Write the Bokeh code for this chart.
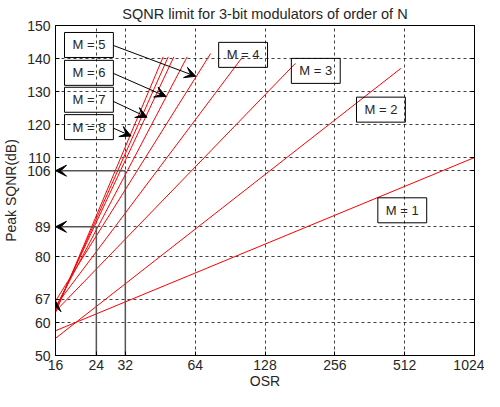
from bokeh.plotting import figure
from bokeh.models import Range1d, FixedTicker, Label, Arrow, VeeHead, LinearAxis, CustomJSTickFormatter
from bokeh.embed import file_html
from bokeh.resources import INLINE

# ---- data ----
x_ticks = [16, 24, 32, 64, 128, 256, 512, 1024]
y_ticks = [50, 60, 67, 80, 89, 106, 110, 120, 130, 140, 150]

# straight lines (in log OSR) for each modulator order
line_names = ["M = 1", "M = 2", "M = 3", "M = 4", "M = 5", "M = 6", "M = 7", "M = 8", "extra"]
osr_start = [16, 16, 16, 16, 16, 16, 16, 16, 16]
sqnr_start = [57.5, 55.2, 63.4, 65.0, 66.5, 64.5, 64.0, 63.5, 63.0]
osr_end = [1024, 493, 173, 102, 74.6, 59.1, 51.8, 49.0, 46.6]
sqnr_end = [110.0, 137.0, 138.5, 140.3, 141.5, 140.5, 140.5, 140.5, 140.5]

# marked points
mark_osr = [24, 32]
mark_sqnr = [89, 106]
start_mark_sqnr = 66.6

# label boxes: text, x, y (data coordinates of box centre)
box_text = ["M = 1", "M = 2", "M = 3", "M = 4", "M = 5", "M = 6", "M = 7", "M = 8"]
box_x = [500, 404.5, 211.9, 103, 22.3, 22.3, 22.3, 22.3]
box_y = [94.0, 124.5, 136.25, 141.1, 144.1, 135.65, 127.5, 119.2]

# arrows from label boxes to lines
arr_x0 = [28.4, 28.4, 28.4, 28.4]
arr_y0 = [143.96, 135.5, 127.0, 118.9]
arr_x1 = [64.4, 47.9, 39.7, 33.9]
arr_y1 = [134.6, 128.5, 122.2, 116.5]

FONT = "Liberation Sans"
TXT = "#262626"

p = figure(width=484, height=391, x_axis_type="log",
           x_range=Range1d(16, 1024), y_range=Range1d(50, 150),
           output_backend="svg", toolbar_location=None,
           title="SQNR limit for 3-bit modulators of order of N",
           x_axis_label="OSR", y_axis_label="Peak SQNR(dB)")
p.min_border_left = 53
p.min_border_right = 10
p.min_border_top = 24
p.min_border_bottom = 0
p.background_fill_color = "white"
p.border_fill_color = "white"
p.outline_line_color = "black"
p.outline_line_width = 1

p.title.align = "center"
p.title.text_font = FONT
p.title.text_font_style = "normal"
p.title.text_font_size = "14.5px"
p.title.text_color = TXT
p.title.standoff = 7
p.title.offset = 24

p.xaxis.ticker = FixedTicker(ticks=x_ticks, minor_ticks=[])
p.yaxis.ticker = FixedTicker(ticks=y_ticks, minor_ticks=[])
p.xaxis.major_label_overrides = {t: str(t) for t in x_ticks}
for ax in (p.xaxis, p.yaxis):
    ax.major_tick_in = 4
    ax.major_tick_out = 0
    ax.minor_tick_out = 0
    ax.minor_tick_line_color = None
    ax.axis_line_color = "black"
    ax.major_tick_line_color = "black"
    ax.major_label_text_font = FONT
    ax.major_label_text_font_size = "14px"
    ax.major_label_text_color = TXT
    ax.axis_label_text_font = FONT
    ax.axis_label_text_font_size = "14px"
    ax.axis_label_text_font_style = "normal"
    ax.axis_label_text_color = TXT
p.xaxis.major_label_standoff = 4
p.xaxis.axis_label_standoff = 0
p.yaxis.major_label_standoff = 5
p.yaxis.axis_label_standoff = 5

# right axis only for inward ticks on the right edge
ra = LinearAxis(ticker=FixedTicker(ticks=y_ticks, minor_ticks=[]),
                formatter=CustomJSTickFormatter(code="return ''"))
ra.major_tick_in = 4
ra.major_tick_out = 0
ra.minor_tick_out = 0
ra.minor_tick_line_color = None
ra.axis_line_color = "black"
ra.major_label_standoff = 0
p.add_layout(ra, "right")

p.grid.grid_line_color = "black"
p.grid.grid_line_dash = "3 3"
p.grid.grid_line_alpha = 0.75

# red lines
for i in range(len(line_names)):
    p.line([osr_start[i], osr_end[i]], [sqnr_start[i], sqnr_end[i]],
           line_color="red", line_width=1)

# marking lines: verticals and arrows to y axis
for ox, sq in zip(mark_osr, mark_sqnr):
    p.line([ox, ox], [50, sq], line_color="#555555", line_width=1.5)
    p.add_layout(Arrow(end=VeeHead(size=11, fill_color="black", line_color="black"),
                       x_start=ox, y_start=sq, x_end=16, y_end=sq,
                       line_color="#555555", line_width=1.5))
p.add_layout(Arrow(end=VeeHead(size=11, fill_color="black", line_color="black"),
                   x_start=16, y_start=60, x_end=16, y_end=start_mark_sqnr,
                   line_color="black", line_width=1))

# annotation arrows
for i in range(len(arr_x0)):
    p.add_layout(Arrow(end=VeeHead(size=11, fill_color="black", line_color="black"),
                       x_start=arr_x0[i], y_start=arr_y0[i], x_end=arr_x1[i], y_end=arr_y1[i],
                       line_color="black", line_width=1))

# label boxes
for t, bx, by in zip(box_text, box_x, box_y):
    p.add_layout(Label(x=bx, y=by, text=t, text_align="center", text_baseline="middle",
                       text_font=FONT, text_font_size="13px", text_color=TXT,
                       border_line_color="black", border_line_width=1,
                       background_fill_color=None,
                       padding=dict(left=8, right=8, top=5, bottom=5)))

open("out.html", "w").write(file_html(p, INLINE))
